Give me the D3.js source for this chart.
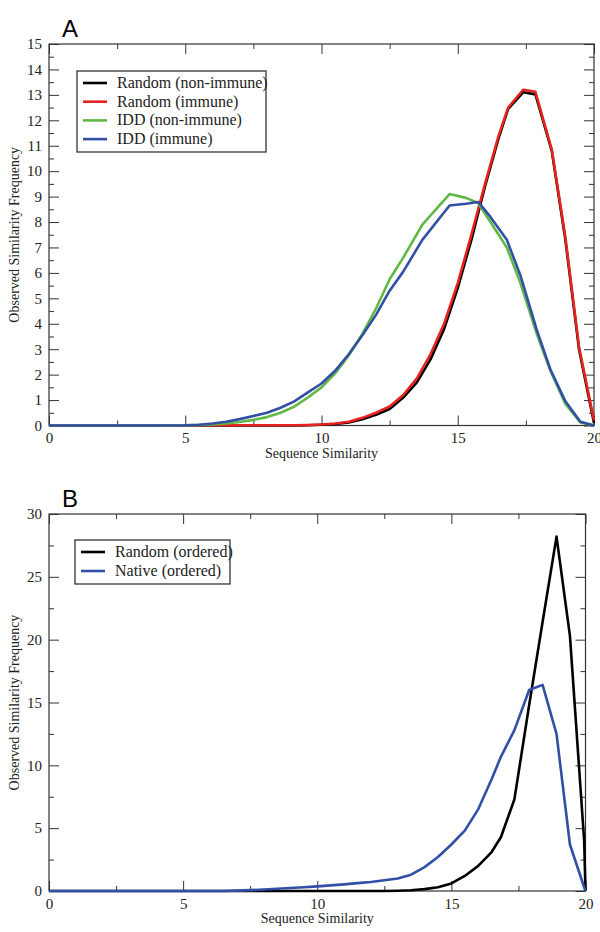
<!DOCTYPE html>
<html>
<head>
<meta charset="utf-8">
<script src="https://cdn.jsdelivr.net/npm/d3@7"></script>
<style>
  body { margin: 0; background: #fff; }
  svg text { font-family: "Liberation Serif", "DejaVu Serif", serif; fill: #222; }
  .tick line { stroke: #333; stroke-width: 1; }
</style>
</head>
<body>
<div id="chart"></div>
<script>
// Panel A : random sequences (x grid + 2 series)
var xA_random = [0, 9, 9.5, 10, 10.5, 11, 11.5, 12, 12.5, 13, 13.5, 14, 14.5, 15, 15.5, 16, 16.5, 16.85, 17.4, 17.85, 18.45, 18.95, 19.45, 20];
var yA_randomNonImmune = [0, 0, 0.01, 0.03, 0.06, 0.12, 0.25, 0.42, 0.65, 1.1, 1.7, 2.6, 3.8, 5.4, 7.3, 9.4, 11.3, 12.45, 13.1, 13.02, 10.8, 7.3, 3.0, 0.1];
var yA_randomImmune = [0, 0.01, 0.02, 0.04, 0.08, 0.15, 0.3, 0.5, 0.75, 1.2, 1.85, 2.8, 4.0, 5.6, 7.5, 9.5, 11.4, 12.5, 13.2, 13.12, 10.85, 7.4, 3.1, 0.2];

// Panel A : IDD sequences
var xA_idd = [0, 4, 5, 5.5, 6, 6.5, 7, 7.5, 8, 8.5, 9, 9.5, 10, 10.5, 11, 11.5, 12, 12.5, 13, 13.7, 14.7, 15.3, 15.75, 16.2, 16.8, 17.3, 17.9, 18.4, 18.95, 19.5, 20];
var yA_iddNonImmune = [0, 0, 0.01, 0.02, 0.04, 0.08, 0.14, 0.22, 0.33, 0.5, 0.74, 1.1, 1.5, 2.05, 2.75, 3.6, 4.6, 5.75, 6.6, 7.9, 9.1, 8.95, 8.75, 8.0, 7.0, 5.6, 3.6, 2.15, 0.85, 0.12, 0];
var yA_iddImmune = [0, 0, 0.01, 0.03, 0.08, 0.15, 0.25, 0.37, 0.5, 0.7, 0.95, 1.3, 1.65, 2.15, 2.8, 3.55, 4.35, 5.3, 6.05, 7.3, 8.65, 8.72, 8.79, 8.2, 7.3, 5.9, 3.76, 2.2, 0.95, 0.15, 0];

// Panel B
var xB = [0, 6.5, 7, 7.5, 8, 8.5, 9, 9.5, 10, 10.5, 11, 11.5, 12, 12.5, 13, 13.5, 14, 14.5, 15, 15.5, 16, 16.5, 16.85, 17.35, 17.9, 18.4, 18.92, 19.42, 19.95, 20];
var yB_random = [0, 0, 0, 0, 0, 0, 0, 0, 0, 0, 0, 0, 0, 0, 0.02, 0.06, 0.15, 0.3, 0.6, 1.2, 2.0, 3.1, 4.3, 7.3, 14.8, 21.4, 28.2, 20.3, 4.0, 0];
var yB_native = [0, 0, 0.03, 0.07, 0.12, 0.18, 0.24, 0.3, 0.37, 0.45, 0.53, 0.63, 0.72, 0.85, 1.0, 1.3, 1.9, 2.7, 3.7, 4.8, 6.5, 8.9, 10.7, 12.8, 16.0, 16.4, 12.5, 3.7, 0.3, 0];

// tick values
var xMajor = [0, 5, 10, 15, 20];
var xMinor = [2.5, 7.5, 12.5, 17.5];
var yMajorA = [0, 1, 2, 3, 4, 5, 6, 7, 8, 9, 10, 11, 12, 13, 14, 15];
var yMinorA = [0.5, 1.5, 2.5, 3.5, 4.5, 5.5, 6.5, 7.5, 8.5, 9.5, 10.5, 11.5, 12.5, 13.5, 14.5];
var yMajorB = [0, 5, 10, 15, 20, 25, 30];
var yMinorB = [2.5, 7.5, 12.5, 17.5, 22.5, 27.5];

var colBlack = "#000000", colRed = "#e8221e", colGreen = "#62b845", colBlue = "#3150a5";

var svg = d3.select("#chart").append("svg").attr("width", 600).attr("height", 932);

function drawPanel(opt) {
    var g = svg.append("g");
    var x = d3.scaleLinear().domain([0, 20]).range([opt.left, opt.right]);
    var y = d3.scaleLinear().domain([0, opt.ymax]).range([opt.bottom, opt.top]);

    // inward ticks on all four sides
    function ax(gen, tx, ty, vals, size, labels) {
        var a = gen.tickValues(vals).tickSize(-size).tickPadding(7);
        if (!labels) a.tickFormat("");
        var s = g.append("g").attr("transform", "translate(" + tx + "," + ty + ")").call(a);
        s.select(".domain").remove();
        s.selectAll("text").style("font-size", "15px");
        return s;
    }
    ax(d3.axisBottom(x), 0, opt.bottom, xMajor, 10, true);
    ax(d3.axisBottom(x), 0, opt.bottom, xMinor, 5, false);
    ax(d3.axisTop(x), 0, opt.top, xMajor, 10, false);
    ax(d3.axisTop(x), 0, opt.top, xMinor, 5, false);
    ax(d3.axisLeft(y), opt.left, 0, opt.yMajor, 10, true);
    ax(d3.axisLeft(y), opt.left, 0, opt.yMinor, 5, false);
    ax(d3.axisRight(y), opt.right, 0, opt.yMajor, 10, false);
    ax(d3.axisRight(y), opt.right, 0, opt.yMinor, 5, false);

    g.append("rect").attr("x", opt.left).attr("y", opt.top)
        .attr("width", opt.right - opt.left).attr("height", opt.bottom - opt.top)
        .style("fill", "none").style("stroke", "#333").style("stroke-width", 1.2);

    var line = d3.line().x(function (d) { return x(d[0]); }).y(function (d) { return y(d[1]); });
    opt.series.forEach(function (s) {
        var pts = s.xs.map(function (v, i) { return [v, s.ys[i]]; });
        g.append("path").datum(pts).attr("d", line)
            .style("fill", "none").style("stroke", s.color).style("stroke-width", 2.6)
            .style("stroke-linejoin", "round");
    });

    // axis titles
    g.append("text").text("Sequence Similarity")
        .attr("x", (opt.left + opt.right) / 2).attr("y", opt.bottom + 32)
        .attr("text-anchor", "middle").style("font-size", "14px");
    g.append("text").text("Observed Similarity Frequency")
        .attr("transform", "translate(19," + (opt.top + opt.bottom) / 2 + ") rotate(-90)")
        .attr("text-anchor", "middle").style("font-size", "14px");

    // panel letter
    g.append("text").text(opt.letter).attr("x", 62).attr("y", opt.top - 7)
        .style("font-family", "'Liberation Sans', Arial, sans-serif").style("font-size", "24px").style("fill", "#000");

    // legend
    var lg = opt.legend;
    g.append("rect").attr("x", lg.x).attr("y", lg.y).attr("width", lg.w).attr("height", lg.h)
        .style("fill", "#fff").style("stroke", "#333").style("stroke-width", 1.3);
    opt.series.slice().sort(function (a, b) { return a.order - b.order; }).forEach(function (s, i) {
        var ry = lg.y + 12 + i * lg.step;
        g.append("line").attr("x1", lg.x + 6).attr("x2", lg.x + 30).attr("y1", ry).attr("y2", ry)
            .style("stroke", s.color).style("stroke-width", 2.6);
        g.append("text").text(s.name).attr("x", lg.x + 40).attr("y", ry + 5).style("font-size", "16px");
    });
}

drawPanel({
    letter: "A", left: 49, right: 594, top: 44, bottom: 425.5, ymax: 15,
    yMajor: yMajorA, yMinor: yMinorA,
    legend: { x: 77, y: 71, w: 189, h: 81, step: 18.7 },
    series: [
        { name: "Random (non-immune)", xs: xA_random, ys: yA_randomNonImmune, color: colBlack, order: 0 },
        { name: "Random (immune)", xs: xA_random, ys: yA_randomImmune, color: colRed, order: 1 },
        { name: "IDD (non-immune)", xs: xA_idd, ys: yA_iddNonImmune, color: colGreen, order: 2 },
        { name: "IDD (immune)", xs: xA_idd, ys: yA_iddImmune, color: colBlue, order: 3 }
    ]
});

drawPanel({
    letter: "B", left: 49, right: 585.5, top: 514, bottom: 891, ymax: 30,
    yMajor: yMajorB, yMinor: yMinorB,
    legend: { x: 75, y: 540, w: 155, h: 44, step: 19 },
    series: [
        { name: "Random (ordered)", xs: xB, ys: yB_random, color: colBlack, order: 0 },
        { name: "Native (ordered)", xs: xB, ys: yB_native, color: colBlue, order: 1 }
    ]
});
</script>
</body>
</html>
